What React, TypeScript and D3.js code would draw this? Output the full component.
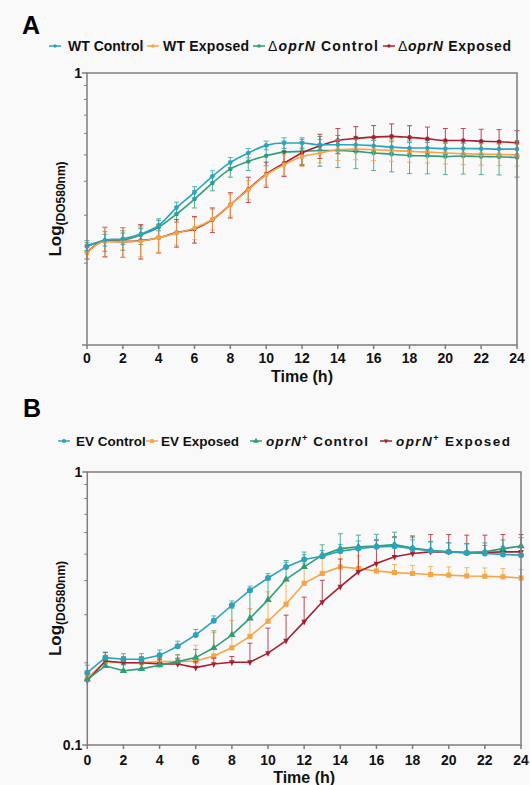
import React from "react";
import * as d3 from "d3";

// ---------- DATA ----------
const hours = [0,1,2,3,4,5,6,7,8,9,10,11,12,13,14,15,16,17,18,19,20,21,22,23,24];

// Panel A
const wtControl = [0.230,0.243,0.246,0.256,0.275,0.320,0.364,0.417,0.469,0.508,0.542,0.553,0.553,0.545,0.545,0.545,0.540,0.534,0.530,0.530,0.527,0.528,0.527,0.525,0.525];
const wtExposed = [0.218,0.240,0.240,0.241,0.248,0.258,0.269,0.290,0.328,0.372,0.422,0.460,0.493,0.508,0.522,0.525,0.522,0.519,0.515,0.512,0.508,0.505,0.503,0.502,0.500];
const dControl = [0.232,0.241,0.243,0.254,0.271,0.303,0.344,0.394,0.444,0.473,0.496,0.512,0.515,0.519,0.519,0.515,0.508,0.503,0.497,0.496,0.493,0.495,0.493,0.492,0.489];
const dExposed = [0.219,0.241,0.240,0.242,0.248,0.259,0.267,0.289,0.328,0.374,0.425,0.466,0.508,0.540,0.565,0.575,0.581,0.585,0.580,0.573,0.565,0.565,0.561,0.559,0.554];
const wtControlSd = [0.008,0.012,0.012,0.012,0.012,0.015,0.018,0.020,0.020,0.020,0.020,0.025,0.025,0.025,0.025,0.025,0.025,0.025,0.025,0.025,0.025,0.025,0.025,0.025,0.025];
const wtExposedSd = [0.010,0.030,0.030,0.030,0.030,0.025,0.025,0.025,0.030,0.030,0.035,0.040,0.040,0.040,0.045,0.045,0.045,0.045,0.045,0.045,0.045,0.045,0.045,0.045,0.045];
const dControlSd = [0.010,0.020,0.020,0.020,0.020,0.020,0.025,0.025,0.030,0.035,0.040,0.050,0.055,0.065,0.070,0.070,0.070,0.070,0.070,0.070,0.070,0.070,0.070,0.070,0.075];
const dExposedSd = [0.012,0.030,0.030,0.035,0.030,0.030,0.030,0.030,0.035,0.040,0.045,0.050,0.050,0.055,0.060,0.060,0.060,0.065,0.060,0.060,0.060,0.060,0.060,0.060,0.060];

// Panel B
const evControl = [0.184,0.209,0.206,0.206,0.213,0.230,0.253,0.285,0.325,0.369,0.409,0.449,0.478,0.491,0.513,0.524,0.532,0.535,0.524,0.514,0.510,0.505,0.503,0.499,0.496];
const evExposed = [0.176,0.202,0.200,0.200,0.202,0.202,0.203,0.212,0.227,0.250,0.284,0.328,0.391,0.425,0.449,0.443,0.434,0.428,0.425,0.421,0.419,0.416,0.415,0.413,0.409];
const opControl = [0.174,0.195,0.187,0.190,0.196,0.202,0.209,0.227,0.253,0.291,0.340,0.404,0.449,0.496,0.524,0.532,0.536,0.542,0.527,0.517,0.510,0.507,0.510,0.524,0.535];
const opExposed = [0.172,0.203,0.200,0.200,0.198,0.198,0.192,0.198,0.201,0.201,0.217,0.241,0.283,0.334,0.380,0.431,0.462,0.489,0.503,0.510,0.510,0.507,0.507,0.510,0.510];
const evControlSd = [0.012,0.010,0.010,0.010,0.010,0.010,0.012,0.012,0.012,0.013,0.015,0.018,0.020,0.025,0.030,0.035,0.035,0.040,0.040,0.040,0.040,0.040,0.035,0.035,0.035];
const evExposedSd = [0.010,0.010,0.010,0.010,0.010,0.012,0.029,0.046,0.059,0.066,0.080,0.073,0.072,0.057,0.060,0.050,0.030,0.030,0.030,0.030,0.030,0.030,0.030,0.030,0.030];
const opControlSd = [0.012,0.010,0.010,0.010,0.010,0.012,0.015,0.035,0.064,0.073,0.063,0.070,0.060,0.045,0.070,0.055,0.055,0.060,0.050,0.040,0.040,0.040,0.040,0.040,0.040];
const opExposedSd = [0.010,0.015,0.010,0.010,0.010,0.010,0.010,0.010,0.010,0.035,0.051,0.058,0.065,0.067,0.100,0.100,0.100,0.090,0.080,0.080,0.080,0.080,0.080,0.080,0.080];

const xTicks = [0,2,4,6,8,10,12,14,16,18,20,22,24];
const yMinorTicks = [0.2,0.3,0.4,0.5,0.6,0.7,0.8,0.9];

// ---------- STYLE ----------
const TEAL = "#2ba3b8";
const ORANGE = "#f6a445";
const GREEN = "#2f9d79";
const RED = "#a81f30";
const FRAME = "#7d7d7d";
const FONT = "'Liberation Sans', Arial, Helvetica, sans-serif";

type Series = { values: number[]; sd: number[]; color: string; symbol: d3.SymbolType; size: number };

function Panel(props: {
  x: d3.ScaleLinear<number, number>;
  y: d3.ScaleLogarithmic<number, number>;
  series: Series[];
  curve: d3.CurveFactory;
  upperOnly: boolean;
  showBottomLabel: boolean;
  tickBaseline: number;
  titleBaseline: number;
}) {
  const { x, y, series, curve, upperOnly } = props;
  const [x0, x1] = x.range();
  const [y0, y1] = y.range(); // bottom, top
  const line = d3.line<number>().x((_, i) => x(hours[i])).y((d) => y(d)).curve(curve);
  return (
    <g>
      {series.map((s, si) => (
        <g key={si}>
          {s.values.map((v, i) => {
            const cx = x(hours[i]);
            const yt = y(v + s.sd[i]);
            const yb = upperOnly ? y(v) : y(Math.max(0.101, v - s.sd[i]));
            return (
              <g key={i} stroke={s.color} strokeWidth={1} opacity={0.8}>
                <line x1={cx} x2={cx} y1={yt} y2={yb} />
                <line x1={cx - 2.5} x2={cx + 2.5} y1={yt} y2={yt} />
                {!upperOnly && <line x1={cx - 2.5} x2={cx + 2.5} y1={yb} y2={yb} />}
              </g>
            );
          })}
          <path d={line(s.values) || ""} fill="none" stroke={s.color} strokeWidth={1.6} />
          {s.values.map((v, i) => (
            <path
              key={"m" + i}
              d={d3.symbol().type(s.symbol).size(s.size)() || ""}
              transform={`translate(${x(hours[i])},${y(v)})`}
              fill={s.color}
            />
          ))}
        </g>
      ))}
      <rect x={x0} y={y1} width={x1 - x0} height={y0 - y1} fill="none" stroke={FRAME} strokeWidth={1.5} />
      {yMinorTicks.map((t) => (
        <line key={t} x1={x0 - 3} x2={x0} y1={y(t)} y2={y(t)} stroke={FRAME} strokeWidth={1} />
      ))}
      <line x1={x0 - 5} x2={x0} y1={y(1)} y2={y(1)} stroke={FRAME} strokeWidth={1.5} />
      <line x1={x0 - 5} x2={x0} y1={y(0.1)} y2={y(0.1)} stroke={FRAME} strokeWidth={1.5} />
      <text x={x0 - 5} y={y(1) + 5} textAnchor="end" fontSize={14} fontWeight="bold" fontFamily={FONT} fill="#111">1</text>
      {props.showBottomLabel && (
        <text x={x0 - 5} y={y(0.1) + 5} textAnchor="end" fontSize={14} fontWeight="bold" fontFamily={FONT} fill="#111">0.1</text>
      )}
      {xTicks.map((t) => (
        <g key={t}>
          <line x1={x(t)} x2={x(t)} y1={y0} y2={y0 + 4} stroke={FRAME} strokeWidth={1.5} />
          <text x={x(t)} y={props.tickBaseline} textAnchor="middle" fontSize={14} fontWeight="bold" fontFamily={FONT} fill="#111">{t}</text>
        </g>
      ))}
      <text x={(x0 + x1) / 2} y={props.titleBaseline} textAnchor="middle" fontSize={16} fontWeight="bold" fontFamily={FONT} fill="#111">Time (h)</text>
      <text
        transform={`translate(61,${(y0 + y1) / 2}) rotate(-90)`}
        textAnchor="middle"
        fontWeight="bold"
        fontFamily={FONT}
        fill="#111"
      >
        <tspan fontSize={17}>Log</tspan>
        <tspan fontSize={12} dy={4}>(DO580nm)</tspan>
      </text>
    </g>
  );
}

function LegendMark(props: { x: number; y: number; color: string; symbol: d3.SymbolType; size: number }) {
  return (
    <g>
      <line x1={props.x - 6} x2={props.x + 6} y1={props.y} y2={props.y} stroke={props.color} strokeWidth={1.5} />
      <path d={d3.symbol().type(props.symbol).size(props.size)() || ""} transform={`translate(${props.x},${props.y})`} fill={props.color} />
    </g>
  );
}

export default function App() {
  const xA = d3.scaleLinear().domain([0, 24]).range([87, 517]);
  const yA = d3.scaleLog().domain([0.1, 1]).range([345, 73]);
  const xB = d3.scaleLinear().domain([0, 24]).range([87.3, 521]);
  const yB = d3.scaleLog().domain([0.1, 1]).range([745, 472]);

  const downTri: d3.SymbolType = {
    draw(ctx, size) {
      const h = Math.sqrt(size * 1.3);
      ctx.moveTo(-h / 2, -h / 3);
      ctx.lineTo(h / 2, -h / 3);
      ctx.lineTo(0, (2 * h) / 3);
      ctx.closePath();
    },
  };

  const seriesA: Series[] = [
    { values: dControl, sd: dControlSd, color: GREEN, symbol: d3.symbolCircle, size: 16 },
    { values: dExposed, sd: dExposedSd, color: RED, symbol: d3.symbolCircle, size: 16 },
    { values: wtExposed, sd: wtExposedSd, color: ORANGE, symbol: d3.symbolSquare, size: 16 },
    { values: wtControl, sd: wtControlSd, color: TEAL, symbol: d3.symbolCircle, size: 16 },
  ];
  const seriesB: Series[] = [
    { values: evExposed, sd: evExposedSd, color: ORANGE, symbol: d3.symbolSquare, size: 26 },
    { values: opExposed, sd: opExposedSd, color: RED, symbol: downTri, size: 24 },
    { values: opControl, sd: opControlSd, color: GREEN, symbol: d3.symbolTriangle, size: 24 },
    { values: evControl, sd: evControlSd, color: TEAL, symbol: d3.symbolCircle, size: 28 },
  ];

  const tA = { fontFamily: FONT, fontWeight: "bold" as const, fontSize: 14, fill: "#111" };
  const tB = { fontFamily: FONT, fontWeight: "bold" as const, fontSize: 13.5, fill: "#111" };
  const lyA = 46;
  const lyB = 441;

  return (
    <svg width={530} height={785} style={{ position: "absolute", left: 0, top: 0 }}>
      <rect x={0} y={0} width={530} height={785} fill="#f9f9f9" />
      <text x={22} y={34} fontFamily={FONT} fontWeight="bold" fontSize={25} fill="#000">A</text>
      <text x={23} y={417} fontFamily={FONT} fontWeight="bold" fontSize={25} fill="#000">B</text>

      {/* Legend A */}
      <LegendMark x={55} y={lyA} color={TEAL} symbol={d3.symbolCircle} size={10} />
      <text x={68} y={lyA + 5} {...tA}>WT Control</text>
      <LegendMark x={153} y={lyA} color={ORANGE} symbol={d3.symbolCircle} size={10} />
      <text x={163} y={lyA + 5} {...tA} textLength={86} lengthAdjust="spacing">WT Exposed</text>
      <LegendMark x={259} y={lyA} color={GREEN} symbol={d3.symbolCircle} size={10} />
      <text x={268} y={lyA + 5} {...tA} textLength={110} lengthAdjust="spacing">
        <tspan fontWeight="normal">Δ</tspan><tspan fontStyle="italic">oprN</tspan> Control
      </text>
      <LegendMark x={389} y={lyA} color={RED} symbol={d3.symbolCircle} size={10} />
      <text x={398} y={lyA + 5} {...tA} textLength={113} lengthAdjust="spacing">
        <tspan fontWeight="normal">Δ</tspan><tspan fontStyle="italic">oprN</tspan> Exposed
      </text>

      {/* Legend B */}
      <LegendMark x={64} y={lyB} color={TEAL} symbol={d3.symbolCircle} size={14} />
      <text x={76} y={lyB + 5} {...tB}>EV Control</text>
      <LegendMark x={152} y={lyB} color={ORANGE} symbol={d3.symbolSquare} size={14} />
      <text x={161} y={lyB + 5} {...tB}>EV Exposed</text>
      <LegendMark x={256} y={lyB} color={GREEN} symbol={d3.symbolTriangle} size={14} />
      <text x={266} y={lyB + 5} {...tB} textLength={102} lengthAdjust="spacing">
        <tspan fontStyle="italic">oprN</tspan><tspan fontSize={9} dy={-5}>+</tspan><tspan dy={5}> Control</tspan>
      </text>
      <LegendMark x={386} y={lyB} color={RED} symbol={downTri} size={14} />
      <text x={396} y={lyB + 5} {...tB} textLength={114} lengthAdjust="spacing">
        <tspan fontStyle="italic">oprN</tspan><tspan fontSize={9} dy={-5}>+</tspan><tspan dy={5}> Exposed</tspan>
      </text>

      <Panel x={xA} y={yA} series={seriesA} curve={d3.curveMonotoneX} upperOnly={false} showBottomLabel={false} tickBaseline={363} titleBaseline={382} />
      <Panel x={xB} y={yB} series={seriesB} curve={d3.curveLinear} upperOnly={true} showBottomLabel={true} tickBaseline={765} titleBaseline={783} />
    </svg>
  );
}
